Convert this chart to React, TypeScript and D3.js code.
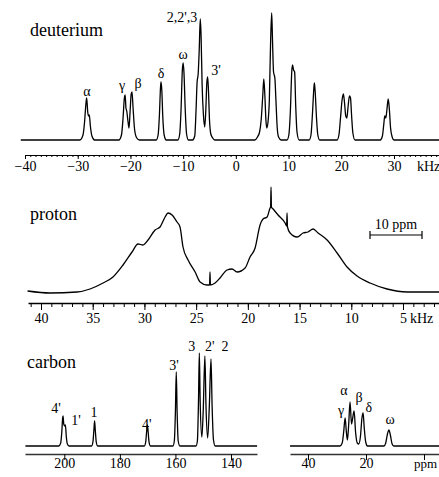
import React, { useEffect, useRef } from 'react';
import * as d3 from 'd3';

// 2H spectrum: [frequency (kHz), intensity]
const deuterium = [
  [-40.8, 0], [-29.6, 0], [-29.0, 5], [-28.7, 18], [-28.45, 36], [-28.3, 42], [-28.1, 28], [-27.95, 24],
  [-27.8, 25], [-27.6, 14], [-27.3, 4], [-26.8, 0],
  [-22.2, 0], [-21.7, 5], [-21.4, 22], [-21.15, 42], [-21.0, 45], [-20.85, 32], [-20.7, 29], [-20.45, 18],
  [-20.27, 12], [-20.05, 30], [-19.85, 46], [-19.7, 48], [-19.5, 32], [-19.2, 10], [-18.8, 2], [-18.3, 0],
  [-15.1, 0], [-14.75, 5], [-14.5, 25], [-14.3, 52], [-14.2, 58], [-14.05, 50], [-13.85, 22], [-13.6, 5], [-13.2, 0],
  [-11.0, 0], [-10.65, 6], [-10.4, 30], [-10.15, 70], [-10.0, 77], [-9.85, 68], [-9.6, 30], [-9.35, 6], [-9.0, 0],
  [-8.2, 0], [-7.8, 4], [-7.55, 30], [-7.35, 58], [-7.15, 66], [-6.95, 90], [-6.75, 121], [-6.6, 105], [-6.4, 55],
  [-6.15, 25], [-5.9, 13], [-5.7, 30], [-5.5, 58], [-5.35, 63], [-5.2, 50], [-5.0, 20], [-4.75, 6], [-4.4, 2], [-4.0, 0],
  [3.6, 0], [4.1, 3], [4.5, 8], [4.8, 20], [5.1, 44], [5.3, 61], [5.5, 45], [5.7, 20], [5.86, 12], [6.1, 18],
  [6.35, 40], [6.6, 100], [6.8, 127], [6.95, 100], [7.15, 68], [7.4, 62], [7.6, 40], [7.85, 12], [8.1, 3], [8.6, 0],
  [9.7, 0], [10.05, 5], [10.35, 30], [10.6, 68], [10.75, 75], [10.95, 70], [11.15, 68], [11.35, 35], [11.6, 8], [12.0, 0],
  [13.9, 0], [14.25, 5], [14.55, 28], [14.8, 52], [14.9, 57], [15.05, 48], [15.3, 22], [15.55, 5], [15.9, 0],
  [19.2, 0], [19.55, 5], [19.85, 22], [20.15, 40], [20.4, 46], [20.6, 38], [20.85, 24], [21.05, 22], [21.3, 34],
  [21.55, 44], [21.75, 42], [21.95, 25], [22.2, 7], [22.6, 0],
  [27.4, 0], [27.8, 4], [28.05, 15], [28.25, 24], [28.45, 22], [28.65, 30], [28.9, 41], [29.1, 32], [29.35, 12],
  [29.65, 3], [30.0, 0], [38.8, 0],
];
const deuteriumLabels = [
  { text: 'α', at: -28.24, level: 44 },
  { text: 'γ', at: -21.6, level: 50 },
  { text: 'β', at: -18.56, level: 52 },
  { text: 'δ', at: -14.2, level: 62 },
  { text: 'ω', at: -10.0, level: 81 },
  { text: "2,2',3", at: -10.2, level: 118 },
  { text: "3'", at: -3.76, level: 65 },
];
const deuteriumTicks = [-40, -30, -20, -10, 0, 10, 20, 30];

// 1H spectrum: [frequency (kHz), intensity]
const proton = [
  [41.3, 2], [39.13, 0], [36.52, 1], [35.26, 4], [34.0, 10], [33.04, 16], [32.07, 28], [31.2, 41], [30.62, 49],
  [30.14, 48], [29.65, 53], [28.97, 63], [28.49, 66], [28.0, 76], [27.72, 80], [27.33, 78], [26.85, 71], [26.56, 66],
  [26.27, 46], [25.78, 33], [25.1, 21], [24.62, 11], [23.95, 8], [23.7, 8], [23.66, 21], [23.62, 8], [23.17, 10],
  [22.69, 15], [22.01, 23], [21.53, 24], [21.04, 21], [20.27, 25], [19.79, 36], [19.3, 45], [18.82, 68], [18.53, 74],
  [18.14, 76], [17.85, 85], [17.8, 86], [17.76, 106], [17.72, 86], [17.56, 84], [17.08, 78], [16.4, 70], [16.25, 67],
  [16.21, 80], [16.17, 66], [15.92, 60], [15.24, 56], [14.66, 60], [14.18, 61], [13.69, 64], [13.21, 60], [12.34, 53],
  [11.37, 40], [10.41, 26], [9.44, 17], [8.18, 10], [6.54, 4], [4.6, 1], [1.5, 1],
];
const protonTicks = [40, 35, 30, 25, 20, 15, 10, 5];

// 13C spectrum, high-frequency part: [shift (ppm), intensity]
const carbonHigh = [
  [214, 0], [202, 0], [201.3, 3], [200.9, 14], [200.6, 28], [200.45, 30], [200.2, 22], [199.85, 20], [199.6, 21],
  [199.3, 10], [198.9, 2], [198.3, 0],
  [190.2, 0], [189.7, 4], [189.35, 16], [189.1, 25], [188.85, 16], [188.5, 4], [188.0, 0],
  [171.2, 0], [170.7, 4], [170.35, 15], [170.1, 21], [169.85, 15], [169.5, 4], [169.0, 0],
  [160.9, 0], [160.4, 5], [160.0, 35], [159.7, 74], [159.4, 35], [159.0, 5], [158.4, 0],
  [152.6, 0], [152.1, 5], [151.7, 45], [151.4, 93], [151.1, 45], [150.5, 9], [150.0, 35], [149.4, 90], [149.0, 40],
  [148.4, 8], [147.8, 40], [147.2, 87], [146.8, 40], [146.3, 6], [145.7, 0], [130.6, 0],
];
const carbonHighLabels = [
  { text: "4'", at: 203.0, level: 33 },
  { text: "1'", at: 195.8, level: 21 },
  { text: '1', at: 189.3, level: 29 },
  { text: "4'", at: 170.3, level: 17 },
  { text: "3'", at: 160.5, level: 76 },
  { text: '3', at: 154.1, level: 95 },
  { text: "2'", at: 147.6, level: 95 },
  { text: '2', at: 142.2, level: 95 },
];
const carbonHighTicks = [200, 180, 160, 140];

// 13C spectrum, aliphatic part
const carbonLow = [
  [46.2, 0], [29, 0], [28.2, 3], [27.7, 14], [27.2, 28], [26.8, 15], [26.4, 6], [26.0, 20], [25.5, 44], [25.0, 22],
  [24.7, 26], [24.1, 35], [23.6, 14], [23.0, 3], [22.5, 2], [21.9, 10], [21.4, 28], [21.0, 33], [20.6, 18],
  [20.1, 4], [19.5, 0], [13.8, 0], [13.2, 3], [12.6, 12], [12.1, 16], [11.6, 11], [11.0, 2], [10.4, 0], [-5.2, 0],
];
const carbonLowLabels = [
  { text: 'γ', at: 28.6, level: 31 },
  { text: 'α', at: 27.6, level: 51 },
  { text: 'β', at: 22.4, level: 44 },
  { text: 'δ', at: 19.0, level: 34 },
  { text: 'ω', at: 11.7, level: 22 },
];
const carbonLowTicks = [40, 20, 0];

const FONT = 'Liberation Serif, Times New Roman, Times, DejaVu Serif, serif';

function App() {
  const ref = useRef(null);

  useEffect(() => {
    const svg = d3.select(ref.current);
    svg.selectAll('*').remove();

    const spectrum = (pts, x, y) => {
      svg.append('path')
        .datum(pts)
        .attr('fill', 'none')
        .attr('stroke', '#000')
        .attr('stroke-width', 1.3)
        .attr('stroke-linejoin', 'round')
        .attr('d', d3.line().x(d => x(d[0])).y(d => y(d[1])).curve(d3.curveMonotoneX));
    };

    const peakLabels = (labels, x, y) => {
      svg.append('g').selectAll('text')
        .data(labels)
        .enter().append('text')
        .attr('x', d => x(d.at))
        .attr('y', d => y(d.level))
        .attr('text-anchor', 'middle')
        .style('font-family', FONT)
        .style('font-size', '14px')
        .attr('fill', '#000')
        .text(d => d.text);
    };

    // axis drawn over the pixel span [left, right], same mapping as x
    const axis = (x, left, right, yPos, major, minor, majorLen, minorLen, labelY, fmt, stroke, width) => {
      const s = x.copy().domain([x.invert(left), x.invert(right)]).range([left, right]);
      const g = svg.append('g').attr('transform', `translate(0,${yPos})`);
      if (minor.length) {
        g.append('g')
          .call(d3.axisBottom(s).tickValues(minor).tickSize(minorLen).tickFormat(() => ''))
          .call(a => a.select('.domain').remove());
      }
      const m = g.append('g')
        .call(d3.axisBottom(s).tickValues(major).tickSize(majorLen).tickSizeOuter(0).tickFormat(fmt));
      m.select('.domain').attr('stroke', stroke).attr('stroke-width', width);
      m.selectAll('text')
        .attr('y', labelY - yPos)
        .attr('dy', null)
        .style('font-family', FONT)
        .style('font-size', '14px')
        .attr('fill', '#000');
      g.selectAll('.tick line').attr('stroke', '#000');
    };

    const title = (text, x, y) => {
      svg.append('text')
        .attr('x', x)
        .attr('y', y)
        .style('font-family', FONT)
        .style('font-size', '18px')
        .text(text);
    };

    const unit = (text, x, y, size = 14) => {
      svg.append('text')
        .attr('x', x)
        .attr('y', y)
        .style('font-family', FONT)
        .style('font-size', `${size}px`)
        .text(text);
    };

    // deuterium
    const dX = d3.scaleLinear().domain([-40, 30]).range([25, 394]);
    const dY = d3.scaleLinear().domain([0, 127]).range([140, 13]);
    spectrum(deuterium, dX, dY);
    peakLabels(deuteriumLabels, dX, dY);
    axis(dX, 25, 439, 155, deuteriumTicks, d3.range(-40, 39, 1), 4, 2, 171, d3.format(''), '#000', 1);
    title('deuterium', 30, 36);
    unit('kHz', 417, 171);

    // proton
    const pX = d3.scaleLinear().domain([40, 5]).range([41, 403]);
    const pY = d3.scaleLinear().domain([0, 100]).range([293, 193]);
    spectrum(proton, pX, pY);
    axis(pX, 28, 439, 303, protonTicks, d3.range(41, 1, -1), 7, 4, 323, d3.format(''), '#000', 1.3);
    title('proton', 30, 220);
    unit('kHz', 410, 323);

    // 10 ppm scale bar
    const bar = svg.append('g').attr('stroke', '#000').attr('stroke-width', 1.2);
    bar.append('line').attr('x1', 370).attr('x2', 422).attr('y1', 235).attr('y2', 235);
    bar.append('line').attr('x1', 370).attr('x2', 370).attr('y1', 231).attr('y2', 239);
    bar.append('line').attr('x1', 422).attr('x2', 422).attr('y1', 231).attr('y2', 239);
    svg.append('text')
      .attr('x', 396).attr('y', 229)
      .attr('text-anchor', 'middle')
      .style('font-family', FONT)
      .style('font-size', '14px')
      .text('10 ppm');

    // carbon
    const cY = d3.scaleLinear().domain([0, 93]).range([446, 353]);
    const cXH = d3.scaleLinear().domain([200, 140]).range([64.3, 231]);
    const cXL = d3.scaleLinear().domain([40, 20]).range([308, 366]);
    spectrum(carbonHigh, cXH, cY);
    spectrum(carbonLow, cXL, cY);
    peakLabels(carbonHighLabels, cXH, cY);
    peakLabels(carbonLowLabels, cXL, cY);
    axis(cXH, 25, 257, 454, carbonHighTicks, [], 6, 0, 468, d3.format(''), '#333', 1.4);
    axis(cXL, 290, 439, 454, carbonLowTicks, [], 6, 0, 468, d => (d === 0 ? '' : d), '#333', 1.4);
    title('carbon', 27, 368);
    unit('ppm', 414, 468, 13);
  }, []);

  return (
    <svg
      ref={ref}
      width={439}
      height={477}
      style={{ position: 'absolute', left: 0, top: 0, background: '#fff' }}
    />
  );
}

export default App;
